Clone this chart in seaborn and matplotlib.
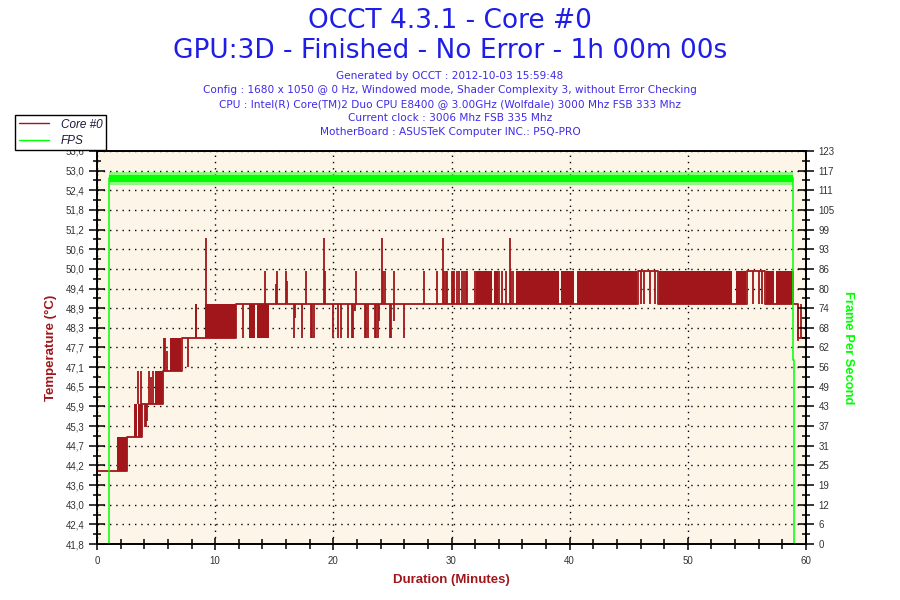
import matplotlib
matplotlib.use("Agg")
import numpy as np
import matplotlib.pyplot as plt
from matplotlib.lines import Line2D
from matplotlib.ticker import AutoMinorLocator, MultipleLocator
from matplotlib import font_manager
import seaborn as sns

# ---- data (minutes / degC / fps) ----
# temperature baseline, step-post
temp_step_t = [0, 2.5, 3.8, 5.55, 7.16, 11.75, 45.8, 47.5, 55.0, 56.5, 59.3, 60]
temp_step_v = [44, 45, 46, 47, 48, 49, 50, 49, 50, 49, 48, 48]

# stretches where the reading flips quickly between two levels
band_t0 = [1.67, 3.15, 3.45, 4.9, 6.2, 8.32, 9.15, 12.85, 13.55, 32.1, 33.6, 35.5, 39.3, 40.6, 47.6, 54.05, 56.6, 57.5]
band_t1 = [2.5, 3.35, 3.78, 5.55, 7.15, 8.43, 11.75, 13.4, 14.55, 33.4, 33.9, 39.1, 40.4, 45.7, 53.75, 54.95, 57.3, 58.97]
band_lo = [44, 45, 45, 46, 47, 48, 48, 48, 48, 49, 49, 49, 49, 49, 49, 49, 49, 49]
band_hi = [45, 46, 46, 47, 48, 49, 49, 49, 49, 50, 50, 50, 50, 50, 50, 50, 50, 50]

# single short excursions
spike_t = [3.44, 3.72, 4.06, 4.15, 4.25, 4.43, 4.57, 4.77, 5.67, 5.75, 5.9, 7.73, 9.25,
           12.38, 14.25, 15.15, 15.2, 16.0, 16.08, 16.7, 16.78, 17.37, 17.7, 18.1, 18.2, 18.4,
           19.23, 19.3, 20.0, 20.4, 20.67, 21.25, 21.6, 21.7, 21.8, 21.9, 22.67, 22.75, 22.9,
           23.5, 23.58, 23.75, 23.86, 24.14, 24.2, 24.4, 24.8, 24.9, 25.1, 25.15, 25.97,
           27.7, 28.8, 29.3, 29.4, 29.5, 29.6, 30.0, 30.1, 30.2, 30.5, 30.6, 30.9, 31.1, 31.2,
           31.3, 32.0, 34.0, 34.3, 34.6, 34.94, 35.05, 35.2, 46.0, 46.3, 46.8, 47.2, 55.5,
           56.0, 56.3, 59.3, 59.6]
spike_lo = [46, 46, 45.3, 45.3, 45.5, 46, 46, 46, 47, 47, 47, 47.1, 48,
            48, 49, 49, 49, 49, 49, 48, 48.6, 48, 49, 48, 48, 48,
            49, 49, 48, 48, 48, 48, 48, 48, 48.8, 49, 48, 48, 48,
            48, 48, 48, 48.5, 49, 49, 49, 48, 48, 49, 48.5, 48,
            49, 49, 49, 49, 49, 49, 49, 49, 49, 49, 49, 49, 49, 49,
            49, 49, 49, 49, 49, 49, 49, 49, 49, 49, 49, 49, 49,
            49, 49, 47.9, 48]
spike_hi = [47, 47, 46, 46, 46, 47, 46.8, 47, 48, 48, 47.6, 48, 51,
            49, 50, 49.6, 50, 50, 49.7, 49, 49, 49, 50, 49, 49, 49,
            51, 50, 49, 49, 49, 49, 49, 49, 49, 50, 49, 49, 49,
            49, 49, 49, 49, 51, 50, 50, 49, 49, 50, 49, 49,
            50, 50, 51, 50, 50, 50, 50, 50, 50, 50, 50, 50, 50, 50,
            50, 50, 50, 50, 50, 51, 50, 50, 50, 50, 50, 50, 50,
            50, 50, 49, 49]

# frames per second
fps_t = [0, 1.0, 1.0, 58.9, 58.9, 58.98, 58.98, 60]
fps_v = [0, 0, 114.5, 114.5, 57.5, 57.5, 0, 0]
fps_band_t = [1.0, 58.9]
fps_core_lo = [113.4, 113.4]
fps_core_hi = [115.5, 115.5]
fps_noise_lo = [112.4, 112.4]
fps_noise_hi = [116.5, 116.5]

temp_ticks_lbl = ["41,8", "42,4", "43,0", "43,6", "44,2", "44,7", "45,3", "45,9", "46,5", "47,1", "47,7",
                  "48,3", "48,9", "49,4", "50,0", "50,6", "51,2", "51,8", "52,4", "53,0", "53,6"]
fps_ticks_lbl = ["0", "6", "12", "19", "25", "31", "37", "43", "49", "56", "62",
                 "68", "74", "80", "86", "93", "99", "105", "111", "117", "123"]

title_lines = ["OCCT 4.3.1 - Core #0", "GPU:3D - Finished - No Error - 1h 00m 00s"]
info_lines = ["Generated by OCCT : 2012-10-03 15:59:48",
              "Config : 1680 x 1050 @ 0 Hz, Windowed mode, Shader Complexity 3, without Error Checking",
              "CPU : Intel(R) Core(TM)2 Duo CPU E8400 @ 3.00GHz (Wolfdale) 3000 Mhz FSB 333 Mhz",
              "Current clock : 3006 Mhz FSB 335 Mhz",
              "MotherBoard : ASUSTeK Computer INC.: P5Q-PRO"]

RED = "#A0161A"
GREEN = "#00FF00"
BLUE = "#1E1EE6"
INFO = "#3F2BE8"

sns.set_style("ticks")
installed = {f.name for f in font_manager.fontManager.ttflist}
narrow = "Liberation Sans Narrow" if "Liberation Sans Narrow" in installed else "Liberation Sans"
lab_size = 11 if narrow == "Liberation Sans Narrow" else 9.5
plt.rcParams["font.family"] = ["Liberation Sans", "DejaVu Sans"]

fig = plt.figure(figsize=(9, 6), dpi=100)
fig.patch.set_facecolor("white")
ax = fig.add_axes([97 / 900, 56 / 600, 709 / 900, 393 / 600])
ax.set_facecolor("#FDF6E8")

# temperature
for t0, t1, lo, hi in zip(band_t0, band_t1, band_lo, band_hi):
    ax.fill_between([t0, t1], [lo, lo], [hi, hi], color=RED, linewidth=0, zorder=2)
ax.vlines(spike_t, spike_lo, spike_hi, color=RED, linewidth=1.3, zorder=2)
sns.lineplot(x=temp_step_t, y=temp_step_v, drawstyle="steps-post", color=RED, linewidth=1.3,
             estimator=None, sort=False, ax=ax, zorder=2)

ax.set_xlim(0, 60)
ax.set_ylim(41.8, 53.6)
ax.set_yticks(np.linspace(41.8, 53.6, 21))
ax.set_yticklabels(temp_ticks_lbl)
ax.set_xticks(range(0, 61, 10))
ax.xaxis.set_minor_locator(MultipleLocator(2))
ax.yaxis.set_minor_locator(AutoMinorLocator(2))
ax.tick_params(axis="y", which="major", direction="inout", length=12, width=1.1, color="black",
               labelsize=7, labelcolor="#333333", pad=3)
ax.tick_params(axis="y", which="minor", direction="inout", length=6, width=1.1, color="black")
ax.tick_params(axis="x", which="major", direction="inout", length=9, width=1.1, color="black",
               labelsize=7, labelcolor="#333333", pad=4)
ax.tick_params(axis="x", which="minor", direction="inout", length=7, width=1.1, color="black")
ax.grid(True, which="major", color="black", linestyle=(0, (1, 3.5)), linewidth=1.0)
ax.set_axisbelow(True)
for s in ax.spines.values():
    s.set_color("black")
    s.set_linewidth(1.2)
ax.set_xlabel("Duration (Minutes)", color=RED, fontsize=lab_size, fontweight="bold", family=narrow, labelpad=6)
ax.set_ylabel("Temperature (°C)", color=RED, fontsize=lab_size, fontweight="bold", family=narrow, labelpad=6)

# fps on the right axis
ax2 = ax.twinx()
ax2.patch.set_visible(False)
ax2.fill_between(fps_band_t, fps_noise_lo, fps_noise_hi, color=GREEN, alpha=0.45, linewidth=0)
ax2.fill_between(fps_band_t, fps_core_lo, fps_core_hi, color=GREEN, linewidth=0)
sns.lineplot(x=fps_t, y=fps_v, color=GREEN, linewidth=1.1, estimator=None, sort=False, ax=ax2)
ax2.set_ylim(0, 123)
ax2.set_yticks(np.linspace(0, 123, 21))
ax2.set_yticklabels(fps_ticks_lbl)
ax2.yaxis.set_minor_locator(AutoMinorLocator(2))
ax2.tick_params(axis="y", which="major", direction="inout", length=12, width=1.1, color="black",
                labelsize=7, labelcolor="#333333", pad=3)
ax2.tick_params(axis="y", which="minor", direction="inout", length=6, width=1.1, color="black")
for s in ax2.spines.values():
    s.set_color("black")
    s.set_linewidth(1.2)
ax2.set_ylabel("Frame Per Second", color=GREEN, fontsize=9.3, fontweight="bold", rotation=270,
               labelpad=14)

# titles
fig.text(0.5, 1 - 21 / 600, title_lines[0], ha="center", va="center", color=BLUE, fontsize=19,
         family="DejaVu Sans")
fig.text(0.5, 1 - 51 / 600, title_lines[1], ha="center", va="center", color=BLUE, fontsize=19,
         family="DejaVu Sans")
for i, line in enumerate(info_lines):
    fig.text(0.5, 1 - (76 + 14 * i) / 600, line, ha="center", va="center", color=INFO,
             fontsize=7.6, family="DejaVu Sans")

handles = [Line2D([], [], color=RED, linewidth=1), Line2D([], [], color=GREEN, linewidth=1)]
leg = fig.legend(handles, ["Core #0", "FPS"], loc="upper left", bbox_to_anchor=(15 / 900, 1 - 115 / 600),
                 frameon=True, fancybox=False, edgecolor="black", facecolor="white", framealpha=1,
                 borderaxespad=0, handlelength=2.6, handletextpad=1.0, labelspacing=0.35,
                 borderpad=0.3, prop={"style": "italic", "size": 8.5})
for txt in leg.get_texts():
    txt.set_color("#1a1a3a")
leg.get_frame().set_linewidth(1.0)

fig.savefig("out.png", dpi=100)
